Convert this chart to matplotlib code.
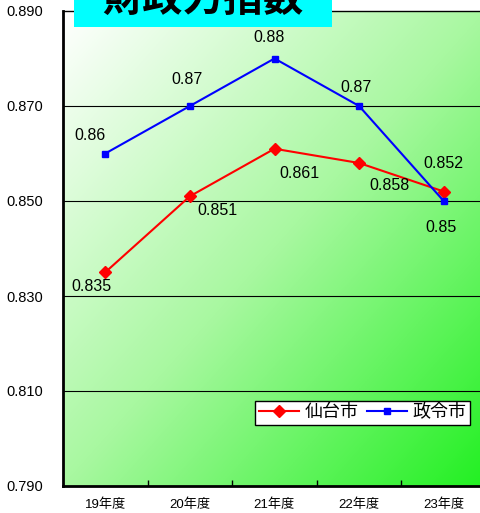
import numpy as np
import matplotlib

matplotlib.use("Agg")
import matplotlib.pyplot as plt
from matplotlib.colors import LinearSegmentedColormap
from matplotlib.patches import Rectangle

plt.rcParams["font.family"] = ["Liberation Sans", "Noto Sans CJK JP", "DejaVu Sans"]

years = ["19年度", "20年度", "21年度", "22年度", "23年度"]
sendai = [0.835, 0.851, 0.861, 0.858, 0.852]
seirei = [0.86, 0.87, 0.88, 0.87, 0.85]
sendai_labels = ["0.835", "0.851", "0.861", "0.858", "0.852"]
seirei_labels = ["0.86", "0.87", "0.88", "0.87", "0.85"]
yticks = [0.790, 0.810, 0.830, 0.850, 0.870, 0.890]

W, H = 481, 513
fig = plt.figure(figsize=(W / 100, H / 100), dpi=100)
ax = fig.add_axes([63 / W, 27 / H, 423 / W, 475 / H])

# diagonal white (top-left) -> green (bottom-right) background
cmap = LinearSegmentedColormap.from_list("g", ["#ffffff", "#a8f8a0", "#22f022"])
yy, xx = np.mgrid[0:1:200j, 0:1:200j]
grad = (xx + yy) / 2
ax.imshow(grad, extent=(-0.5, 4.5, 0.790, 0.890), origin="upper", cmap=cmap,
          aspect="auto", zorder=0, interpolation="bilinear")

for v in yticks[1:-1]:
    ax.axhline(v, color="black", lw=0.8, zorder=1)

x = np.arange(len(years))
ax.plot(x, sendai, color="#ff0000", lw=1.5, marker="D", ms=6.5, label="仙台市", zorder=3)
ax.plot(x, seirei, color="#0000ff", lw=1.5, marker="s", ms=4.5, label="政令市", zorder=3)

# data labels (offsets in points)
red_off = [(-10, -10), (20, -10), (18, -18), (22, -16), (0, 20)]
blue_off = [(-11, 13), (-2, 19), (-4, 15), (-2, 13), (-2, -19)]
for i in range(len(years)):
    ax.annotate(sendai_labels[i], (x[i], sendai[i]), xytext=red_off[i],
                textcoords="offset points", ha="center", va="center", fontsize=11.5)
    ax.annotate(seirei_labels[i], (x[i], seirei[i]), xytext=blue_off[i],
                textcoords="offset points", ha="center", va="center", fontsize=11.5)

ax.set_xlim(-0.5, 4.5)
ax.set_ylim(0.790, 0.890)
ax.set_yticks(yticks)
ax.set_yticklabels([f"{v:.3f}" for v in yticks], fontsize=10.5)
ax.tick_params(axis="y", length=0, pad=14)
ax.set_xticks(x)
ax.set_xticklabels(years, fontsize=9.5)
ax.tick_params(axis="x", length=0, pad=9)
ax.set_xticks(np.arange(0.5, 4.5, 1), minor=True)
ax.tick_params(axis="x", which="minor", direction="in", length=4, width=1)
for s in ["left", "bottom"]:
    ax.spines[s].set_linewidth(2)
ax.spines["top"].set_linewidth(1)
ax.spines["right"].set_visible(False)

leg = ax.legend(loc="lower right", bbox_to_anchor=(407 / 423, 61 / 475), ncol=2,
                fontsize=13, frameon=True, fancybox=False, edgecolor="black",
                handlelength=2.2, handletextpad=0.3, columnspacing=0.5,
                borderpad=0.2, borderaxespad=0)
leg.get_frame().set_linewidth(1)
leg.get_frame().set_facecolor("white")
leg.get_frame().set_alpha(1)

# title box, cut off at the top of the picture
fig.patches.append(Rectangle((74 / W, 1 - 27 / H), 258 / W, 27 / H,
                             transform=fig.transFigure, facecolor="#00ffff",
                             edgecolor="none", zorder=5))
fig.text(203 / W, 1 + 1 / H, "財政力指数", ha="center", va="center", fontsize=29,
         fontweight="bold", family=["Noto Sans CJK JP"], zorder=6)

fig.savefig("out.png", dpi=100)
